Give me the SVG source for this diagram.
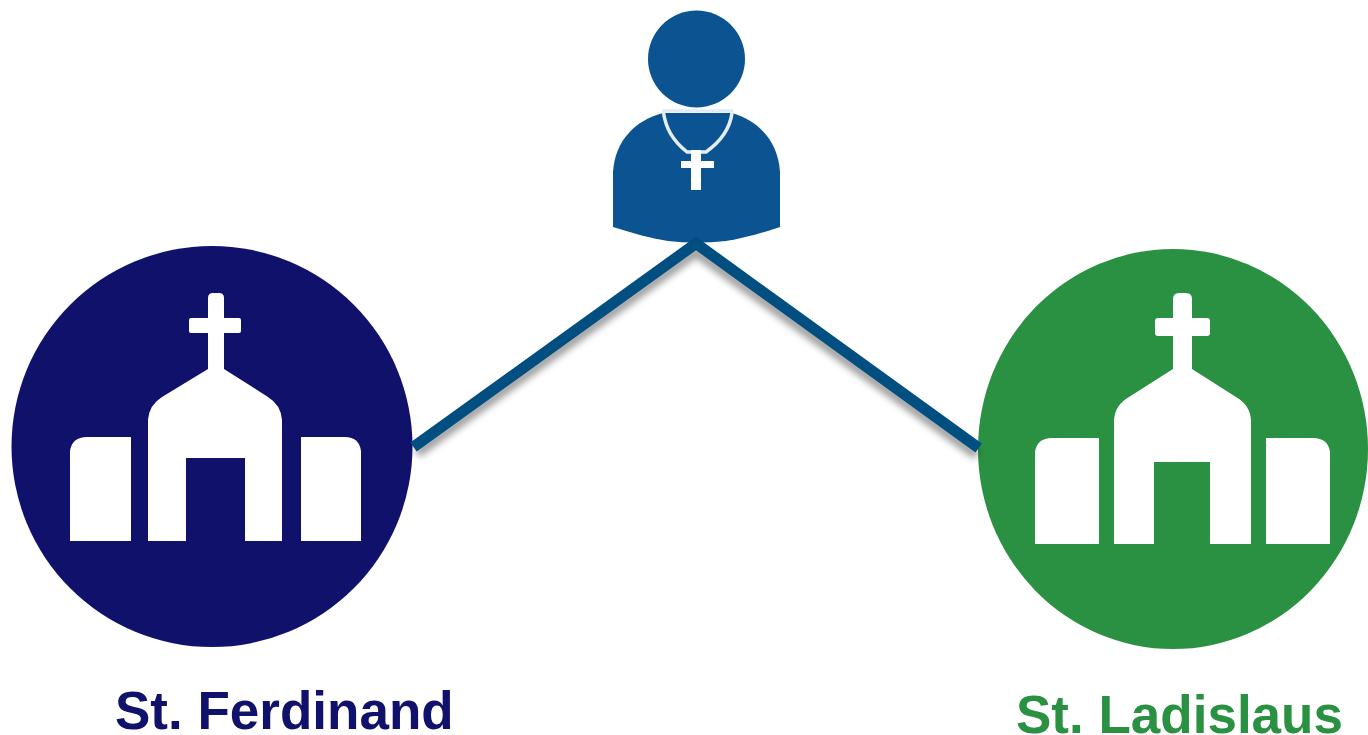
<svg xmlns="http://www.w3.org/2000/svg" width="1368" height="735" viewBox="0 0 1368 735">
<defs>
<style>
.label{font-family:"Liberation Sans",Arial,sans-serif;font-weight:700;font-size:53px}
.white{fill:#fff}
.conn{fill:none;stroke:#004f80;stroke-width:11;stroke-linejoin:miter}
.shadow{fill:none;stroke:#000;stroke-opacity:.38;stroke-width:10;filter:url(#blur)}
</style>
<filter id="blur" filterUnits="userSpaceOnUse" x="380" y="220" width="640" height="270"><feGaussianBlur stdDeviation="3.5"/></filter>
</defs>
<rect width="1368" height="735" fill="#fff"/>
<g id="priest">
<circle cx="696.5" cy="59" r="48.500" fill="#0b5391"/>
<path fill="#0b5391" d="M663 113C636 120 615 140 613 172L613 227C632 233 650 238 668 241Q682 242.500 696 242.500Q712 242.500 726 241C745 238 762 233 780 227L780 172C778 140 757 120 732 113Z"/>
<path fill="none" stroke="#e4ecf4" stroke-width="3.500" d="M662 111H733M663.500 113C666 128 672 140 687 152H706C720 142 730 128 732 113"/>
<path class="white" d="M691 150H701V161H714V168H701V190H691V168H681V161H691Z"/>
</g>
<g id="st-ferdinand">
<circle cx="212" cy="446.500" r="200.500" fill="#0f116b"/>
<path class="white" d="M208 298Q208 293 213 293H219Q224 293 224 298V318H239Q241 318 241 320V331Q241 333 239 333H224V369L268 397Q281 405 282 420V541H245V458H186V541H148V420Q149 405 162 397L208 369V333H191Q189 333 189 331V320Q189 318 191 318H208Z"/>
<path class="white" d="M70 451Q72 437 87 437H131V541H70Z"/>
<path class="white" d="M301 437H345Q359 437 361 451V541H301Z"/>
<text class="label" x="115" y="729" fill="#0f116b">St. Ferdinand</text>
</g>
<g id="st-ladislaus">
<ellipse cx="1173" cy="449" rx="195" ry="200" fill="#2a9142"/>
<path class="white" d="M1173 299Q1173 293 1179 293H1186Q1192 293 1192 299V318H1207Q1210 318 1210 321V333Q1210 336 1207 336H1192V369L1236 397Q1250 405 1251 420V544H1210V462H1154V544H1114V420Q1115 405 1129 397L1173 369V336H1158Q1155 336 1155 333V321Q1155 318 1158 318H1173Z"/>
<path class="white" d="M1035 452Q1037 438 1052 438H1099V544H1035Z"/>
<path class="white" d="M1266 438H1313Q1328 438 1330 452V544H1266Z"/>
<text class="label" x="1016" y="733" fill="#2a9142">St. Ladislaus</text>
</g>
<g id="connectors">
<path class="shadow" d="M417 453L696 252L977 455"/>
<path class="conn" d="M413.500 447L696 243.500L978.700 448"/>
</g>
</svg>
